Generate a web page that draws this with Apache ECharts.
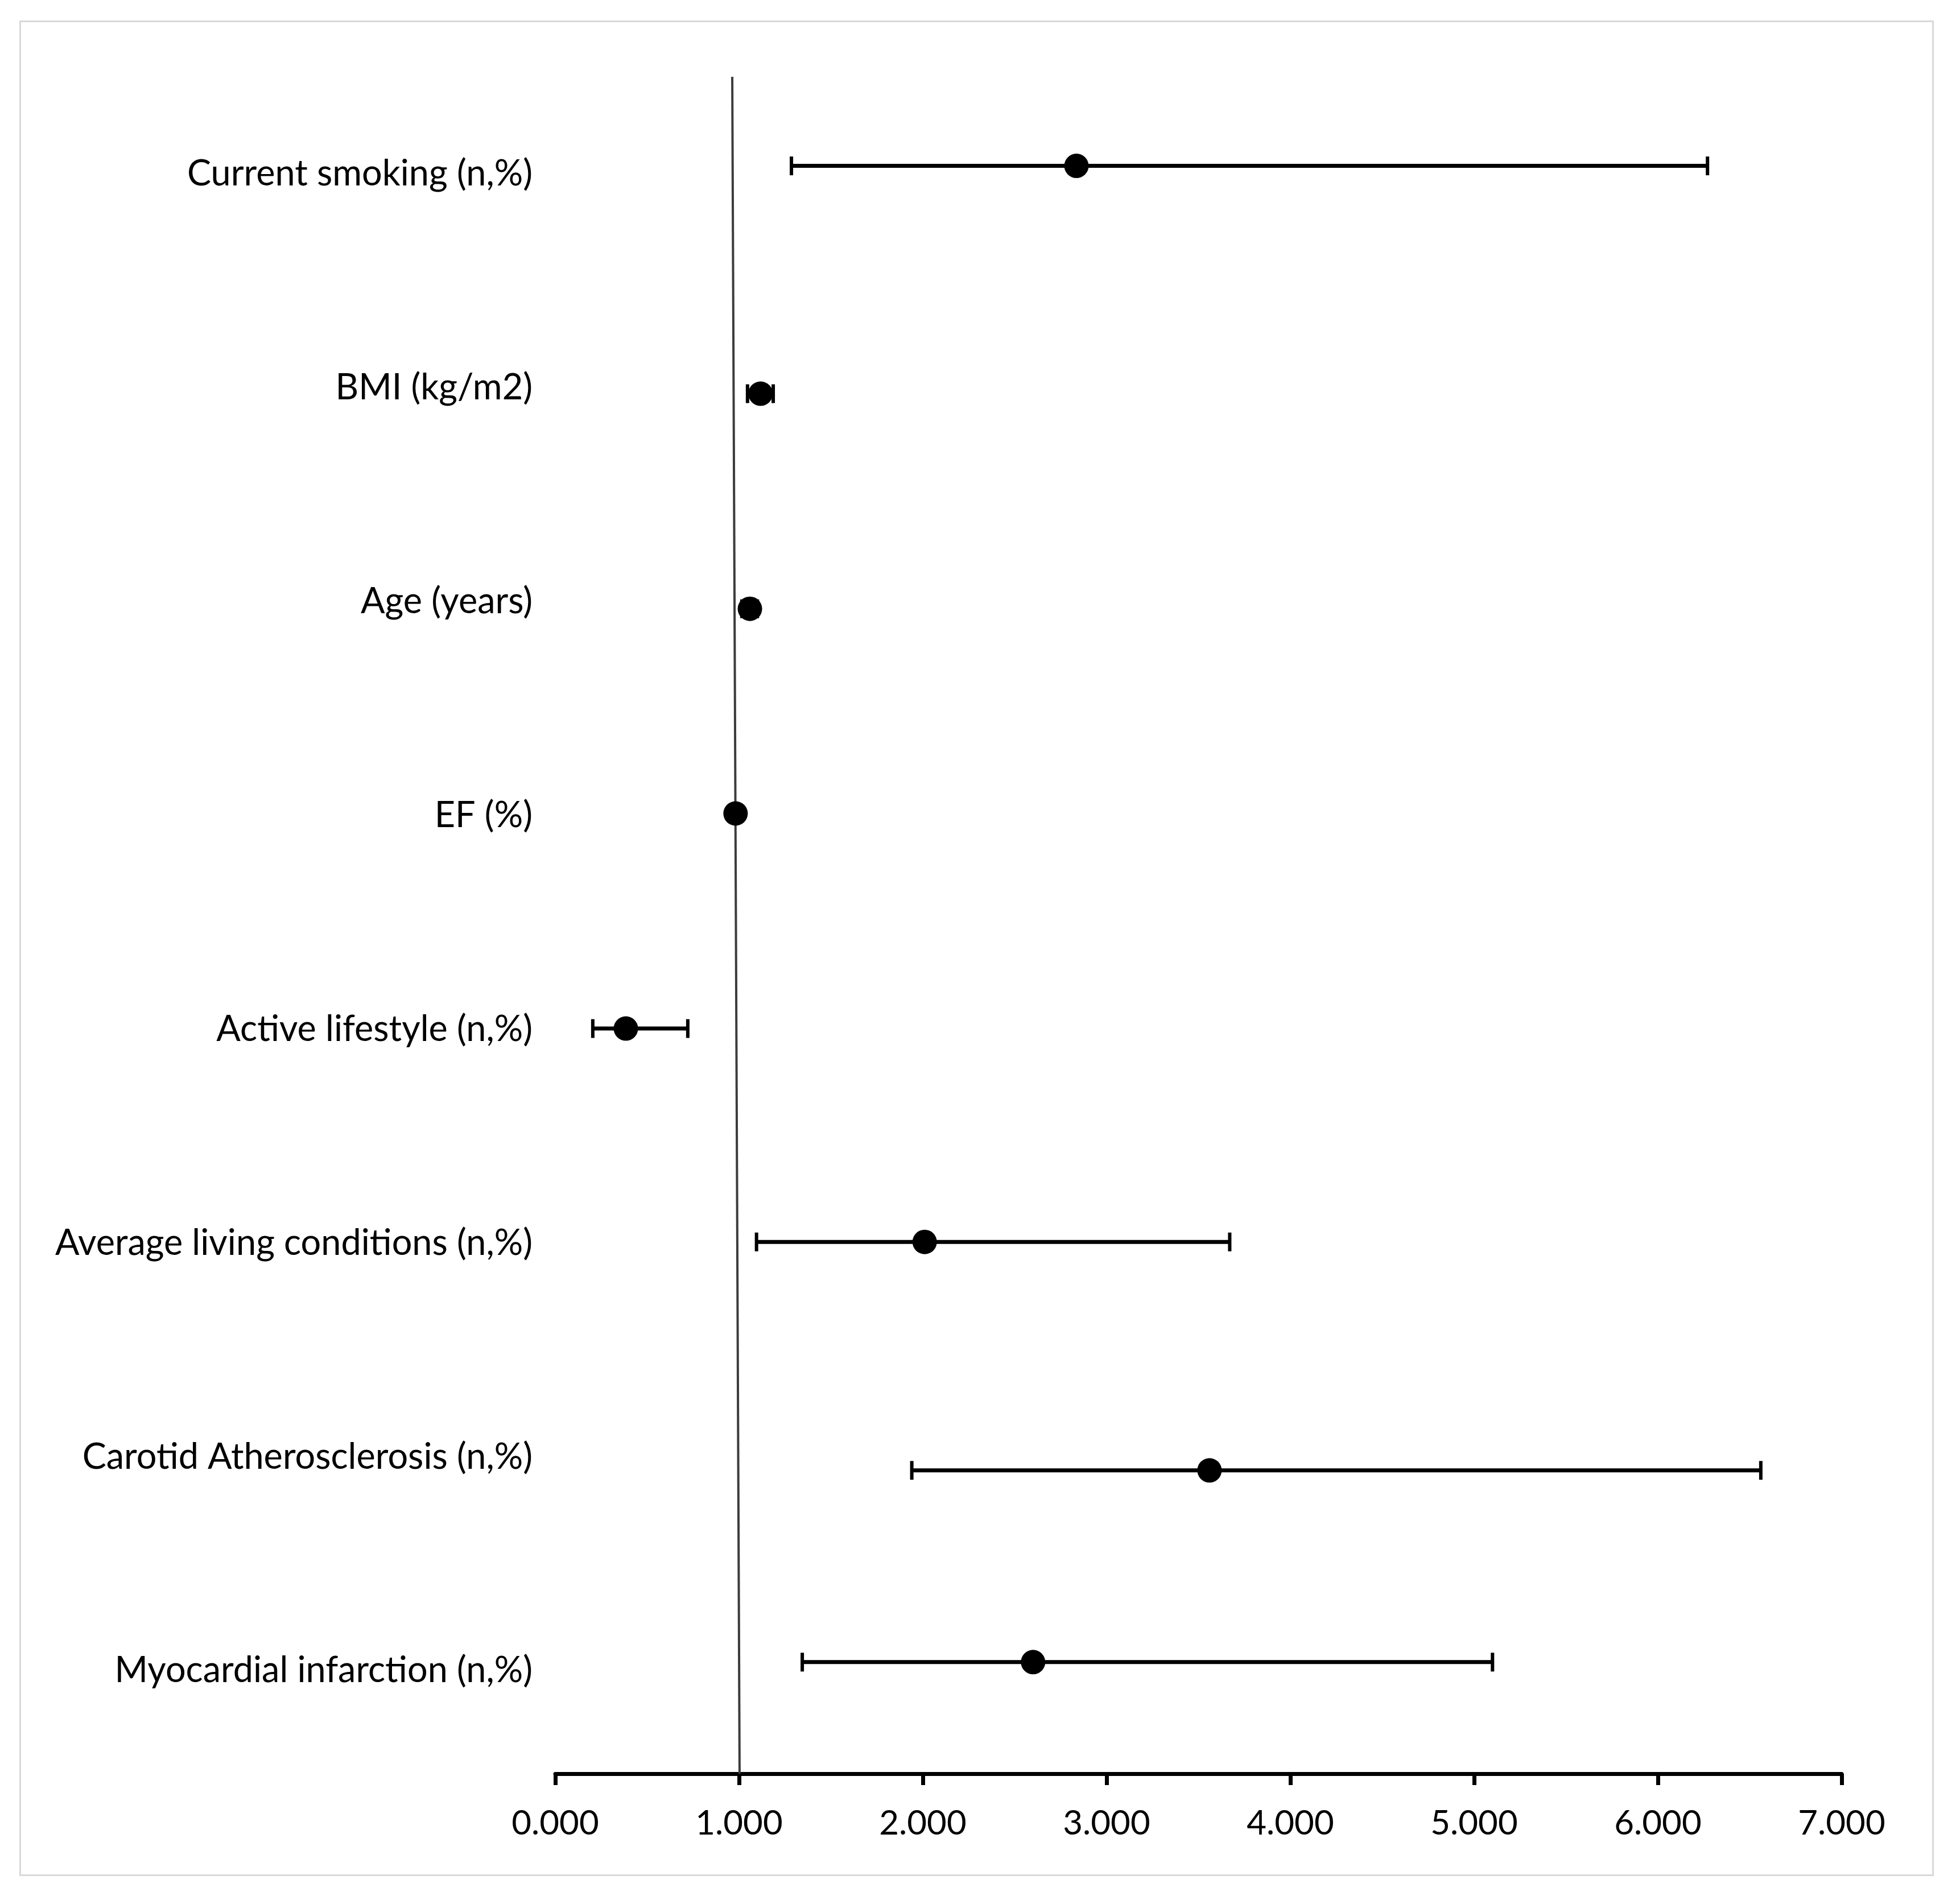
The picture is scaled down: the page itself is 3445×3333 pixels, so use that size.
<!DOCTYPE html>
<html>
<head>
<meta charset="utf-8">
<script src="https://cdn.jsdelivr.net/npm/echarts@6/dist/echarts.min.js"></script>
<style>html,body{margin:0;padding:0;background:#fff}#c{width:3445px;height:3333px}</style>
</head>
<body>
<div id="c"></div>
<script>
// Categories, top to bottom
var categories = ['Current smoking (n,%)', 'BMI (kg/m2)', 'Age (years)', 'EF (%)',
  'Active lifestyle (n,%)', 'Average living conditions (n,%)', 'Carotid Atherosclerosis (n,%)', 'Myocardial infarction (n,%)'];
// Odds ratio estimates and 95% CI
var estimate = [2.836, 1.117, 1.059, 0.981, 0.384, 2.010, 3.560, 2.600];
var lower    = [1.285, 1.046, 1.015, 0.960, 0.204, 1.095, 1.940, 1.344];
var upper    = [6.270, 1.186, 1.100, 1.000, 0.721, 3.670, 6.560, 5.100];
// Row positions on the hidden value axis (0..8)
var rowY     = [7.58, 6.506, 5.492, 4.527, 3.513, 2.507, 1.43, 0.526];
// Reference line (near OR = 1)
var refLine  = [[1.003, 0], [0.963, 8]];
var xTicksMin = 0, xTicksMax = 7, xTickStep = 1;

var pts = estimate.map(function (v, i) { return [v, rowY[i]]; });
var bars = lower.map(function (v, i) { return [v, upper[i], rowY[i]]; });

var chart = echarts.init(document.getElementById('c'), null, { renderer: 'canvas' });
var font = 'Lato, "Open Sans", sans-serif';
chart.setOption({
  animation: false,
  backgroundColor: '#ffffff',
  graphic: [{
    type: 'rect', left: 33, top: 35,
    shape: { width: 3362, height: 3259 },
    style: { fill: 'none', stroke: '#d9d9d9', lineWidth: 3 }, silent: true
  }],
  grid: [
    { left: 976, right: 208, top: 135, bottom: 215, containLabel: false },
    { left: 976, right: 208, top: 118, bottom: 208, containLabel: false }
  ],
  xAxis: [{
    type: 'value', gridIndex: 0, min: xTicksMin, max: xTicksMax, interval: xTickStep,
    axisLine: { show: true, onZero: false, lineStyle: { color: '#000', width: 7 } },
    axisTick: { show: true, length: 20, lineStyle: { color: '#000', width: 7 } },
    splitLine: { show: false },
    axisLabel: { formatter: function (v) { return v.toFixed(3); }, fontFamily: font, fontSize: 60, color: '#000', margin: 58 }
  }, {
    type: 'value', gridIndex: 1, min: 0, max: 1, show: false
  }],
  yAxis: [{
    type: 'value', gridIndex: 0, min: 0, max: 8, show: false, splitLine: { show: false }
  }, {
    type: 'category', gridIndex: 1, data: categories, inverse: true, boundaryGap: true,
    axisLine: { show: false }, axisTick: { show: false }, splitLine: { show: false },
    axisLabel: { fontFamily: font, fontSize: 63, color: '#000', margin: 40 }
  }],
  series: [{
    type: 'line', xAxisIndex: 0, yAxisIndex: 0, data: refLine, symbol: 'none',
    lineStyle: { color: '#3c3c3c', width: 4 }, z: 1, silent: true
  }, {
    type: 'custom', xAxisIndex: 0, yAxisIndex: 0, data: bars, z: 2,
    renderItem: function (params, api) {
      var a = api.coord([api.value(0), api.value(2)]);
      var b = api.coord([api.value(1), api.value(2)]);
      var h = 16.5;
      return {
        type: 'group', children: [
          { type: 'line', shape: { x1: a[0], y1: a[1], x2: b[0], y2: b[1] }, style: { stroke: '#000', lineWidth: 7 } },
          { type: 'line', shape: { x1: a[0], y1: a[1] - h, x2: a[0], y2: a[1] + h }, style: { stroke: '#000', lineWidth: 6 } },
          { type: 'line', shape: { x1: b[0], y1: b[1] - h, x2: b[0], y2: b[1] + h }, style: { stroke: '#000', lineWidth: 6 } }
        ]
      };
    }
  }, {
    type: 'scatter', xAxisIndex: 0, yAxisIndex: 0, data: pts, symbol: 'circle', symbolSize: 43,
    itemStyle: { color: '#000', opacity: 1 }, z: 3
  }]
});
</script>
</body>
</html>
